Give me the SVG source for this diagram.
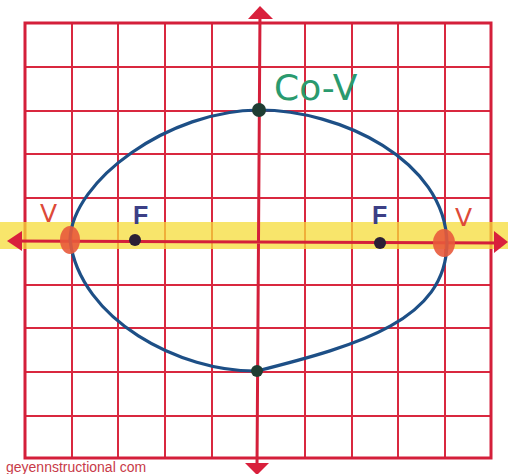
<svg xmlns="http://www.w3.org/2000/svg" width="508" height="474" viewBox="0 0 508 474">
<defs>
<style>
.grid{stroke:#d9283f;stroke-width:2;fill:none}
.border{stroke:#d41f3a;stroke-width:3;fill:none}
.axis{stroke:#d41f3a;stroke-width:3;fill:none}
.arrow{fill:#d9203c}
.curve{stroke:#1d4f86;stroke-width:3.2;fill:none;stroke-linecap:round}
.vtx{fill:#e85a3c;opacity:0.9}
.dot{fill:#2b1f35}
.cov{fill:#1f3d33}
.lblV{font-family:"DejaVu Sans",sans-serif;font-size:25px;fill:#dd4a38}
.lblF{font-family:"Liberation Sans",sans-serif;font-weight:bold;font-size:25px;fill:#3c3f86}
</style>
</defs>
<rect width="508" height="474" fill="#ffffff"/>
<g id="grid">
<path class="grid" d="M72 23V458M118 23V458M165 23V458M212 23V458M305 23V458M352 23V458M398 23V458M445 23V458M25 67H491M25 111H491M25 154H491M25 198H491M25 285H491M25 328H491M25 372H491M25 416H491"/>
<rect class="border" x="25" y="23" width="466" height="435"/>
</g>
<rect id="highlight" x="0" y="222" width="508" height="27" fill="#f6dc3a" opacity="0.75"/>
<g id="axes">
<path class="axis" d="M260 12L257 466M10 241L503 243"/>
<polygon class="arrow" points="248,19 273,19 260,6"/>
<polygon class="arrow" points="245,463 269,463 257,475"/>
<polygon class="arrow" points="22,231 22,251 7,241"/>
<polygon class="arrow" points="494,231 494,253 508,242"/>
</g>
<g id="connectors">
<path class="curve" d="M70 240C72 180 170 110 259 110C340 110 445 160 447 243C446 320 360 345 257 371C180 372 80 320 70 240Z"/>
</g>
<g id="vertex-left"><ellipse class="vtx" cx="70" cy="240" rx="10" ry="14"/><text class="lblV" x="40" y="222">V</text></g>
<g id="vertex-right"><ellipse class="vtx" cx="444" cy="243" rx="11" ry="14"/><text class="lblV" x="455" y="226" fill="#e0602e">V</text></g>
<g id="focus-left"><circle class="dot" cx="135" cy="240" r="6"/><text class="lblF" x="133" y="224">F</text></g>
<g id="focus-right"><circle class="dot" cx="380" cy="243" r="6"/><text class="lblF" x="372" y="224">F</text></g>
<g id="covertex-top"><circle class="cov" cx="259" cy="110" r="7"/><text x="274" y="100" font-family="DejaVu Sans, sans-serif" font-size="36" fill="#2a9a6e">Co-V</text></g>
<g id="covertex-bottom"><circle class="cov" cx="257" cy="371" r="6"/></g>
<text id="watermark" x="6" y="472" font-family="Liberation Sans, sans-serif" font-size="14" fill="#c83a48">geyennstructional com</text>
</svg>
